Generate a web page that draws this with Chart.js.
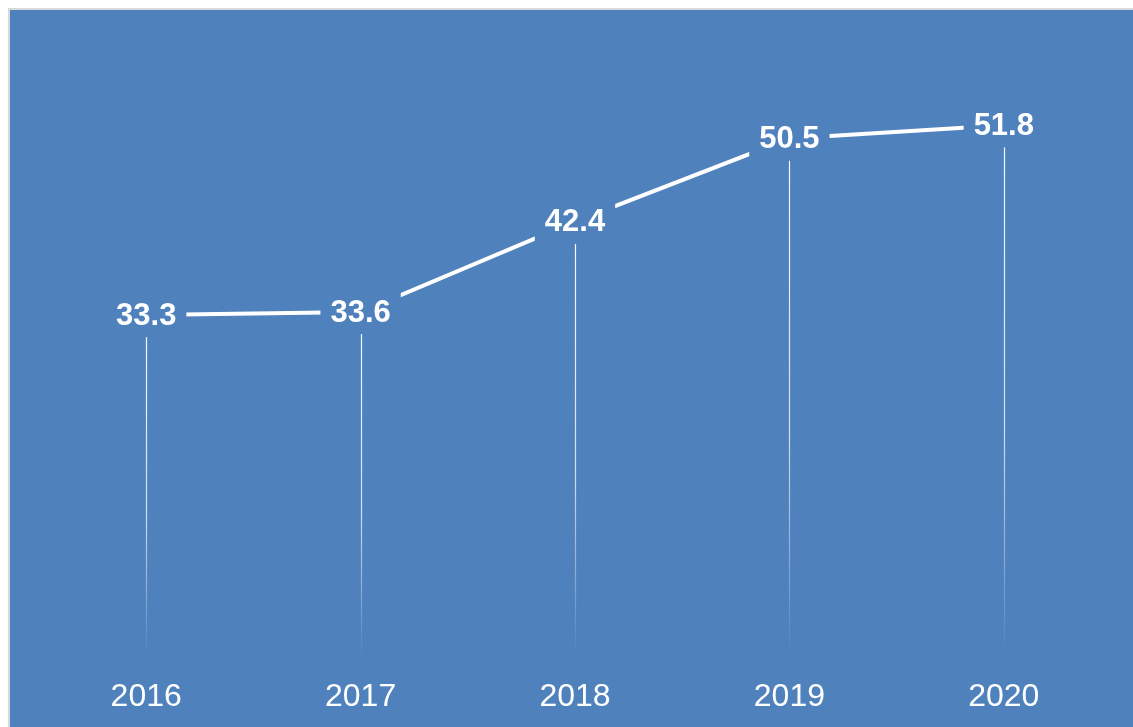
<!DOCTYPE html>
<html>
<head>
<meta charset="utf-8">
<script src="https://cdn.jsdelivr.net/npm/chart.js@4.4.0/dist/chart.umd.min.js"></script>
<style>
  html, body { margin: 0; padding: 0; background: #ffffff; }
  #wrap { position: relative; width: 1133px; height: 727px; }
</style>
</head>
<body>
<div id="wrap"><canvas id="c"></canvas></div>
<script>
const categories = ['2016', '2017', '2018', '2019', '2020'];
const values = [33.3, 33.6, 42.4, 50.5, 51.8];

const BLUE = '#4F81BD';
const FONT = '"Liberation Sans", Arial, sans-serif';

const backgroundPlugin = {
  id: 'bg',
  beforeDraw(chart) {
    const ctx = chart.ctx;
    const w = chart.width, h = chart.height;
    ctx.save();
    ctx.fillStyle = '#ffffff';
    ctx.fillRect(0, 0, w, h);
    ctx.fillStyle = '#d9d9d9';
    ctx.fillRect(8, 8, w - 8, h - 8);
    ctx.fillStyle = BLUE;
    ctx.fillRect(10, 10, w - 10, h - 10);
    ctx.restore();
  }
};

const dropLinePlugin = {
  id: 'drops',
  beforeDatasetsDraw(chart) {
    const ctx = chart.ctx;
    const meta = chart.getDatasetMeta(0);
    const y0 = chart.scales.y.getPixelForValue(0);
    ctx.save();
    meta.data.forEach(pt => {
      const top = pt.y + 22;
      const g = ctx.createLinearGradient(0, top, 0, y0);
      g.addColorStop(0, 'rgba(255,255,255,0.95)');
      g.addColorStop(0.55, 'rgba(255,255,255,0.75)');
      g.addColorStop(1, 'rgba(255,255,255,0)');
      ctx.strokeStyle = g;
      ctx.lineWidth = 1.2;
      ctx.beginPath();
      ctx.moveTo(Math.round(pt.x) + 0.5, top);
      ctx.lineTo(Math.round(pt.x) + 0.5, y0);
      ctx.stroke();
    });
    ctx.restore();
  }
};

const labelPlugin = {
  id: 'valueLabels',
  afterDatasetsDraw(chart) {
    const ctx = chart.ctx;
    const meta = chart.getDatasetMeta(0);
    const data = chart.data.datasets[0].data;
    ctx.save();
    ctx.font = 'bold 31px ' + FONT;
    ctx.textAlign = 'center';
    ctx.textBaseline = 'middle';
    meta.data.forEach((pt, i) => {
      const txt = data[i].toFixed(1);
      const tw = ctx.measureText(txt).width;
      ctx.fillStyle = BLUE;
      ctx.fillRect(pt.x - tw / 2 - 10, pt.y - 22, tw + 20, 44);
      ctx.fillStyle = '#ffffff';
      ctx.fillText(txt, pt.x, pt.y + 1);
    });
    ctx.restore();
  }
};

new Chart(document.getElementById('c'), {
  type: 'line',
  data: {
    labels: categories,
    datasets: [{
      data: values,
      borderColor: '#ffffff',
      borderWidth: 4,
      pointRadius: 0,
      tension: 0,
      fill: false
    }]
  },
  options: {
    responsive: true,
    maintainAspectRatio: false,
    animation: false,
    layout: { padding: { left: 39, right: 22, top: 41, bottom: 0 } },
    plugins: { legend: { display: false }, tooltip: { enabled: false } },
    scales: {
      x: {
        offset: true,
        grid: { display: false, drawTicks: false },
        border: { display: false },
        ticks: { color: '#ffffff', font: { family: FONT, size: 32 }, padding: 21 },
        afterFit(scale) { scale.height = 70; }
      },
      y: {
        display: false,
        min: 0,
        max: 60
      }
    }
  },
  plugins: [backgroundPlugin, dropLinePlugin, labelPlugin]
});
</script>
</body>
</html>
